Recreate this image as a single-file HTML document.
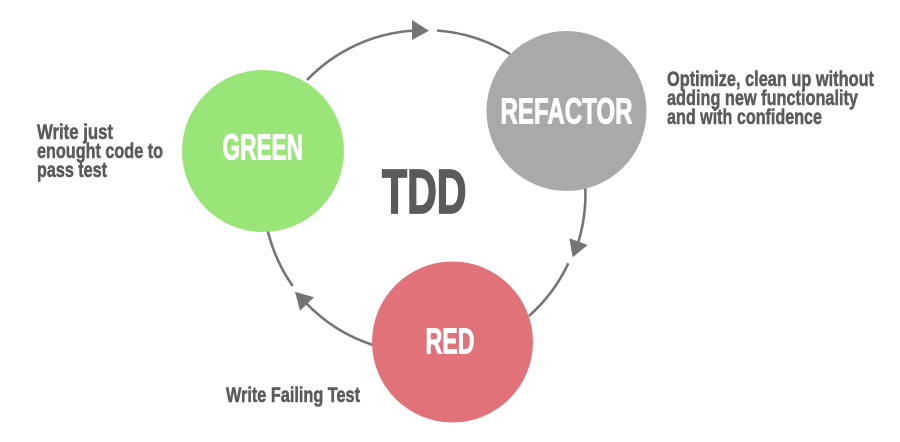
<!DOCTYPE html>
<html lang="en">
<head>
<meta charset="utf-8">
<title>TDD</title>
<style>
html,body{margin:0;padding:0;background:#fff;width:900px;height:442px;overflow:hidden}
svg{display:block}
text{font-family:"Liberation Sans",Arial,sans-serif;font-weight:700}
.w{fill:#fff;stroke:#fff;stroke-width:1}
.d{fill:#5b5b5b;stroke:#5b5b5b;stroke-width:.55}
.t{stroke-width:1.8}
.s{font-size:21.5px}
</style>
</head>
<body>
<svg width="900" height="442" viewBox="0 0 900 442" xmlns="http://www.w3.org/2000/svg">
<g fill="none" stroke="#757575" stroke-width="2.6">
<path d="M307 80A162 162 0 0 1 414 30.5"/>
<path d="M437 30.5A162 162 0 0 1 510 54"/>
<path d="M585.3 188A162 162 0 0 1 578 243"/>
<path d="M568.3 263.3A162 162 0 0 1 529 316"/>
<path d="M373 345A162 162 0 0 1 306 303"/>
<path d="M292.7 286A162 162 0 0 1 266.7 226"/>
</g>
<g fill="#757575">
<polygon points="412,20 412,40 429,30.7"/>
<polygon points="569.3,238.3 587.7,245 572.7,257.3"/>
<polygon points="295,291.7 314,297.3 300,310.7"/>
</g>
<circle cx="263" cy="151" r="81" fill="#9ae577"/>
<circle cx="566.5" cy="111" r="80" fill="#a9a9a9"/>
<circle cx="452.5" cy="342" r="80.5" fill="#e2727a"/>
<text class="w" x="222.5" y="159.5" font-size="36" textLength="80.5" lengthAdjust="spacingAndGlyphs">GREEN</text>
<text class="w" x="500.5" y="123.5" font-size="36" textLength="132" lengthAdjust="spacingAndGlyphs">REFACTOR</text>
<text class="w" x="425.5" y="353.5" font-size="36" textLength="49" lengthAdjust="spacingAndGlyphs">RED</text>
<text class="d t" x="382" y="213" font-size="62" textLength="84.5" lengthAdjust="spacingAndGlyphs">TDD</text>
<text class="d s" x="667" y="86" textLength="207" lengthAdjust="spacingAndGlyphs">Optimize, clean up without</text>
<text class="d s" x="667" y="105" textLength="191" lengthAdjust="spacingAndGlyphs">adding new functionality</text>
<text class="d s" x="667" y="124" textLength="155" lengthAdjust="spacingAndGlyphs">and with confidence</text>
<text class="d s" x="37" y="139" textLength="76" lengthAdjust="spacingAndGlyphs">Write just</text>
<text class="d s" x="37" y="158" textLength="126" lengthAdjust="spacingAndGlyphs">enought code to</text>
<text class="d s" x="37" y="177" textLength="70" lengthAdjust="spacingAndGlyphs">pass test</text>
<text class="d s" x="226" y="402" textLength="134" lengthAdjust="spacingAndGlyphs">Write Failing Test</text>
</svg>
</body>
</html>
